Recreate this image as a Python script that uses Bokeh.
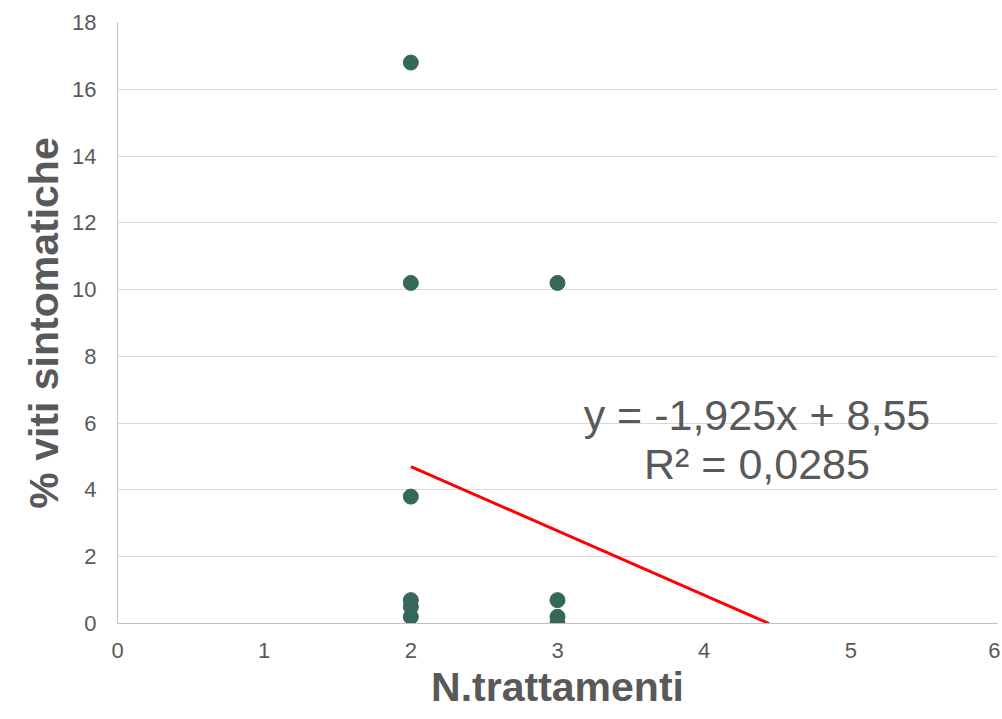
from bokeh.plotting import figure
from bokeh.models import Range1d, FixedTicker, ColumnDataSource
from bokeh.embed import file_html
from bokeh.resources import INLINE
from bokeh.core.properties import value

# Data
x_vals = [2, 2, 2, 2, 2, 2, 3, 3, 3, 3]
y_vals = [16.8, 10.2, 3.8, 0.7, 0.5, 0.2, 10.2, 0.7, 0.2, 0.0]
slope = -1.925
intercept = 8.55
r2_label = "R² = 0,0285"
eq_label = "y = -1,925x + 8,55"
x_ticks = [0, 1, 2, 3, 4, 5, 6]
y_ticks = [0, 2, 4, 6, 8, 10, 12, 14, 16, 18]

FONT = "Liberation Sans"
GRAY = "#595959"

p = figure(width=1000, height=717, output_backend="svg", toolbar_location=None,
           x_range=Range1d(0, 6), y_range=Range1d(0, 18),
           min_border_left=117, min_border_right=3, min_border_top=22, min_border_bottom=94)
p.outline_line_color = None
p.background_fill_color = "white"

p.xgrid.grid_line_color = None
p.ygrid.grid_line_color = "#d9d9d9"
p.ygrid.grid_line_width = 1
p.ygrid.ticker = FixedTicker(ticks=y_ticks)

for ax in (p.xaxis, p.yaxis):
    ax.axis_line_color = "#bfbfbf"
    ax.axis_line_width = 1
    ax.major_tick_line_color = None
    ax.minor_tick_line_color = None
    ax.major_label_text_font = FONT
    ax.major_label_text_font_size = "22px"
    ax.major_label_text_color = GRAY
    ax.axis_label_text_font = FONT
    ax.axis_label_text_font_style = "bold"
    ax.axis_label_text_color = GRAY

p.xaxis.ticker = FixedTicker(ticks=x_ticks)
p.yaxis.ticker = FixedTicker(ticks=y_ticks)
p.xaxis.major_label_standoff = 13
p.yaxis.major_label_standoff = 15
p.xaxis.axis_label = "N.trattamenti"
p.yaxis.axis_label = "% viti sintomatiche"
p.xaxis.axis_label_text_font_size = "41px"
p.yaxis.axis_label_text_font_size = "41px"
p.xaxis.axis_label_standoff = 3
p.yaxis.axis_label_standoff = 2

# trendline from x=2 forward until y = 0
x_end = -intercept / slope
tx = [2, x_end]
ty = [slope * v + intercept for v in tx]
p.line(tx, ty, line_color="#ff0000", line_width=3)

src = ColumnDataSource(dict(x=x_vals, y=y_vals))
p.scatter("x", "y", source=src, size=15, fill_color="#35675a", line_color="#35675a")

p.text(x=[4.36], y=[6.23], text=[eq_label], text_font=value(FONT), text_font_size="43px",
       text_color=GRAY, text_align="center", text_baseline="middle")
p.text(x=[4.36], y=[4.79], text=[r2_label], text_font=value(FONT), text_font_size="43px",
       text_color=GRAY, text_align="center", text_baseline="middle")

open("out.html", "w").write(file_html(p, INLINE))
